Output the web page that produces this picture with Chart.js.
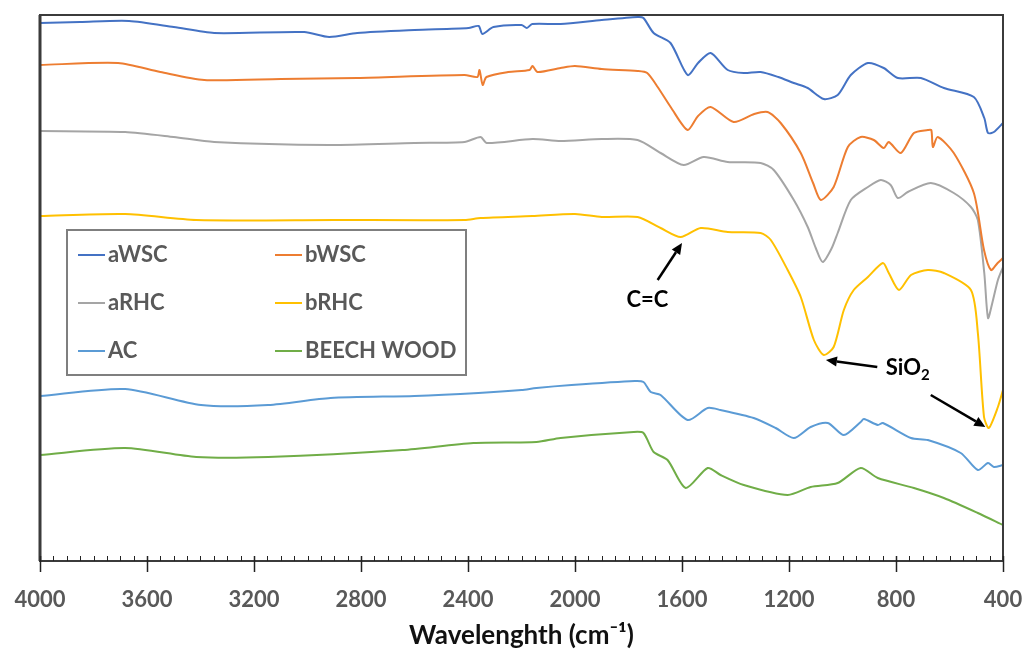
<!DOCTYPE html>
<html>
<head>
<meta charset="utf-8">
<script src="https://cdn.jsdelivr.net/npm/chart.js@4.4.0/dist/chart.umd.min.js"></script>
<style>
  html, body { margin: 0; padding: 0; background: #fff; }
  #wrap { width: 1025px; height: 652px; }
</style>
</head>
<body>
<div id="wrap"><canvas id="ftir" width="1025" height="652"></canvas></div>
<script>
// — data: wavenumber (cm-1) / relative transmittance (a.u.) —
const xTicks = [4000, 3600, 3200, 2800, 2400, 2000, 1600, 1200, 800, 400];

const awscX = [4000, 3850, 3667, 3500, 3349, 3012, 2919, 2814, 2600, 2398, 2360, 2346, 2305, 2200, 2180, 2160, 2054, 1900, 1766, 1744, 1706, 1643, 1579, 1540, 1493, 1429, 1369, 1306, 1240, 1182, 1130, 1070, 1018, 969, 905, 846, 793, 707, 621, 509, 470, 456, 434, 400];
const awscY = [540, 541, 542, 536, 530, 531, 526, 530, 533, 535, 537, 529, 536, 538, 535, 539, 539, 543, 546, 545, 530, 520, 488, 500, 510, 493, 490, 491, 486, 480, 475, 464, 468, 488, 500, 495, 485, 485, 475, 466, 445, 430, 431, 440];

const bwscX = [4000, 3708, 3550, 3386, 3100, 2814, 2413, 2365, 2357, 2345, 2331, 2250, 2170, 2159, 2140, 2054, 2000, 1900, 1766, 1730, 1691, 1640, 1579, 1540, 1493, 1407, 1330, 1280, 1231, 1156, 1110, 1081, 1033, 980, 932, 883, 846, 827, 782, 733, 681, 668, 662, 644, 584, 509, 471, 445, 420, 400];
const bwscY = [498, 500, 491, 483, 484, 485, 488, 486, 493, 478, 486, 491, 493, 497, 491, 495, 497, 494, 492, 490, 476, 455, 433, 447, 456, 441, 449, 451, 440, 410, 380, 363, 376, 416, 426, 423, 415, 421, 410, 430, 433, 433, 416, 426, 410, 370, 313, 293, 300, 305];

const arhcX = [4000, 3682, 3500, 3349, 2919, 2600, 2413, 2353, 2330, 2159, 2054, 1900, 1766, 1680, 1594, 1519, 1429, 1306, 1257, 1182, 1130, 1100, 1074, 1040, 1018, 969, 905, 857, 820, 793, 756, 670, 584, 520, 494, 470, 456, 440, 419, 400];
const arhcY = [432, 431, 426, 421, 418, 420, 421, 426, 420, 424, 422, 424, 423, 410, 398, 406, 401, 400, 393, 363, 336, 315, 301, 315, 330, 363, 376, 383, 378, 365, 371, 380, 370, 356, 343, 290, 245, 260, 283, 296];

const brhcX = [4000, 3682, 3416, 2900, 2413, 2353, 2159, 2000, 1900, 1766, 1680, 1605, 1530, 1429, 1306, 1268, 1205, 1156, 1107, 1070, 1033, 995, 958, 905, 849, 827, 789, 744, 681, 621, 520, 494, 471, 453, 419, 400];
const brhcY = [347, 349, 343, 343, 343, 345, 347, 349, 346, 346, 335, 326, 335, 331, 330, 323, 293, 266, 223, 208, 216, 253, 273, 286, 300, 290, 273, 288, 293, 290, 273, 230, 146, 135, 156, 173];

const acX = [4000, 3682, 3398, 3147, 2914, 2600, 2361, 2200, 2144, 2013, 1777, 1744, 1717, 1680, 1579, 1504, 1456, 1332, 1250, 1182, 1119, 1055, 995, 932, 920, 868, 849, 744, 681, 558, 494, 456, 434, 400];
const acY = [167, 174, 158, 158, 165, 167, 170, 173, 175, 178, 182, 181, 171, 168, 143, 155, 153, 145, 135, 125, 136, 140, 128, 141, 144, 138, 140, 125, 123, 110, 93, 100, 96, 98];

const beechX = [4000, 3682, 3416, 3147, 2645, 2380, 2144, 2054, 1781, 1744, 1706, 1654, 1586, 1504, 1456, 1369, 1205, 1119, 1018, 932, 868, 733, 621, 494, 400];
const beechY = [108, 115, 106, 106, 113, 120, 121, 125, 131, 130, 111, 103, 75, 95, 88, 78, 68, 76, 80, 95, 85, 75, 65, 50, 38];

const seriesNames  = ['aWSC', 'bWSC', 'aRHC', 'bRHC', 'AC', 'BEECH WOOD'];
const seriesColors = ['#4472C4', '#ED7D31', '#A5A5A5', '#FFC000', '#5B9BD5', '#70AD47'];

// helper: zip x/y arrays into points
const pts = (xs, ys) => xs.map((w, i) => ({ x: w, y: ys[i] }));
const allSeries = [
  pts(awscX, awscY), pts(bwscX, bwscY), pts(arhcX, arhcY),
  pts(brhcX, brhcY), pts(acX, acY), pts(beechX, beechY)
];

// annotation anchors in data units (wavenumber, a.u.)
const notes = {
  cc:    { text: [1729, 263], tail: [1691, 283], head: [1600, 320] },
  sio2:  { text: [838, 195],
           arrows: [ { tail: [870, 196], head: [1062, 203] },
                     { tail: [670, 168], head: [466, 136] } ] }
};

const FONT = 'Lato, "Open Sans", sans-serif';

function arrow(ctx, x1, y1, x2, y2) {
  const ang = Math.atan2(y2 - y1, x2 - x1);
  const hl = 11, hw = 5;
  const bx = x2 - hl * Math.cos(ang), by = y2 - hl * Math.sin(ang);
  ctx.beginPath();
  ctx.moveTo(x1, y1);
  ctx.lineTo(bx, by);
  ctx.stroke();
  ctx.beginPath();
  ctx.moveTo(x2, y2);
  ctx.lineTo(bx + hw * Math.sin(ang), by - hw * Math.cos(ang));
  ctx.lineTo(bx - hw * Math.sin(ang), by + hw * Math.cos(ang));
  ctx.closePath();
  ctx.fill();
}

// — frame, minor ticks, legend box and the arrows —
const extras = {
  id: 'extras',
  afterDraw(chart) {
    const { ctx, chartArea: a, scales: { x, y } } = chart;
    ctx.save();

    // plot frame
    ctx.strokeStyle = '#3b3b3b';
    ctx.lineWidth = 2;
    ctx.strokeRect(a.left, a.top, a.right - a.left, a.bottom - a.top);
    ctx.lineWidth = 3;
    ctx.beginPath(); ctx.moveTo(a.left, a.top); ctx.lineTo(a.left, a.bottom); ctx.stroke();

    // tick marks every 50 cm-1, long ones at the labels
    ctx.strokeStyle = '#222';
    for (let w = 400; w <= 4000; w += 50) {
      const px = Math.round(x.getPixelForValue(w)) + 0.5;
      const major = xTicks.includes(w);
      ctx.lineWidth = major ? 1.5 : 1;
      ctx.beginPath();
      ctx.moveTo(px, a.bottom - 5);
      ctx.lineTo(px, a.bottom + (major ? 11 : 0));
      ctx.stroke();
    }

    // legend box (2 columns x 3 rows)
    const lx = 67, ly = 230, lw = 399, lh = 145;
    ctx.fillStyle = '#fff';
    ctx.fillRect(lx, ly, lw, lh);
    ctx.strokeStyle = '#7f7f7f';
    ctx.lineWidth = 2;
    ctx.strokeRect(lx, ly, lw, lh);
    ctx.font = `700 22px ${FONT}`;
    ctx.textBaseline = 'middle';
    ctx.textAlign = 'left';
    chart.data.datasets.forEach((ds, i) => {
      const col = i % 2, row = Math.floor(i / 2);
      const x0 = col ? 275 : 78;
      const yy = 255 + row * 48;
      ctx.strokeStyle = ds.borderColor;
      ctx.lineWidth = 2;
      ctx.beginPath(); ctx.moveTo(x0, yy); ctx.lineTo(x0 + 27, yy); ctx.stroke();
      ctx.fillStyle = '#595959';
      ctx.fillText(ds.label, x0 + 30, yy);
    });

    // annotations
    const P = (p) => [x.getPixelForValue(p[0]), y.getPixelForValue(p[1])];
    ctx.fillStyle = '#000';
    ctx.strokeStyle = '#000';
    ctx.lineWidth = 2.5;
    ctx.font = `700 22px ${FONT}`;
    ctx.textAlign = 'center';
    const [cx, cy] = P(notes.cc.text);
    ctx.fillText('C=C', cx, cy);
    arrow(ctx, ...P(notes.cc.tail), ...P(notes.cc.head));

    const [sx, sy] = P(notes.sio2.text);
    ctx.textAlign = 'left';
    ctx.fillText('SiO', sx, sy);
    const sw = ctx.measureText('SiO').width;
    ctx.font = `700 15px ${FONT}`;
    ctx.fillText('2', sx + sw, sy + 7);
    notes.sio2.arrows.forEach(ar => arrow(ctx, ...P(ar.tail), ...P(ar.head)));

    ctx.restore();
  }
};

const ctx = document.getElementById('ftir').getContext('2d');
new Chart(ctx, {
  type: 'line',
  data: {
    datasets: allSeries.map((data, i) => ({
      label: seriesNames[i],
      data,
      borderColor: seriesColors[i],
      backgroundColor: seriesColors[i],
      borderWidth: 2,
      pointRadius: 0,
      tension: 0.25,
      fill: false
    }))
  },
  options: {
    responsive: false,
    animation: false,
    devicePixelRatio: 1,
    layout: { padding: { left: 40, right: 22, top: 15, bottom: 0 } },
    scales: {
      x: {
        type: 'linear',
        reverse: true,
        min: 400,
        max: 4000,
        afterBuildTicks: (s) => { s.ticks = xTicks.map(v => ({ value: v })); },
        afterFit: (s) => { s.height = 91; s.paddingLeft = 0; s.paddingRight = 0; },
        grid: { display: false, drawTicks: false },
        border: { display: false },
        ticks: {
          padding: 26,
          color: '#595959',
          font: { family: FONT, size: 22, weight: '700' },
          maxRotation: 0,
          autoSkip: false,
          callback: (v) => String(v)
        },
        title: {
          display: true,
          text: 'Wavelenghth (cm⁻¹)',
          color: '#111',
          font: { family: FONT, size: 26, weight: '700' },
          padding: { top: 2, bottom: 1 }
        }
      },
      y: {
        display: false,
        min: 2,
        max: 548
      }
    },
    plugins: {
      legend: { display: false },
      tooltip: { enabled: false }
    }
  },
  plugins: [extras]
});
</script>
</body>
</html>
